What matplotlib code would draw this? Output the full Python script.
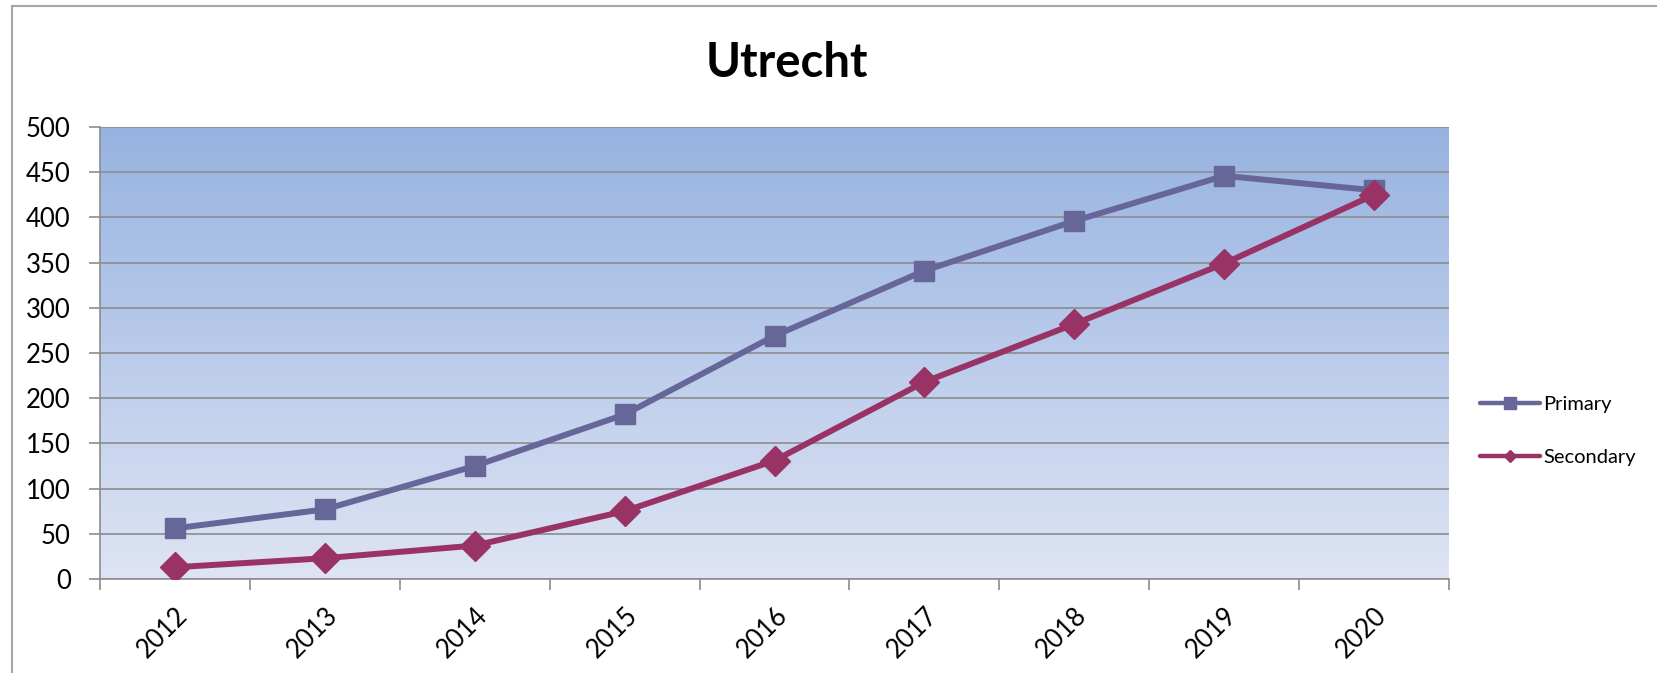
import matplotlib
matplotlib.use("Agg")
import matplotlib.pyplot as plt
import numpy as np
from matplotlib.colors import LinearSegmentedColormap
from matplotlib.lines import Line2D
from matplotlib.patches import Rectangle

years = ["2012", "2013", "2014", "2015", "2016", "2017", "2018", "2019", "2020"]
primary = [56, 77, 125, 182, 269, 341, 396, 446, 430]
secondary = [13, 23, 37, 75, 131, 218, 282, 349, 425]
y_ticks = [0, 50, 100, 150, 200, 250, 300, 350, 400, 450, 500]

PRIMARY_COLOR = "#666699"
SECONDARY_COLOR = "#993366"
GRID_COLOR = "#8c8c8c"

plt.rcParams["font.family"] = ["Lato", "DejaVu Sans"]

W, H = 1658, 673
fig = plt.figure(figsize=(W / 100, H / 100), dpi=100)
ax = fig.add_axes([100 / W, 1 - 579 / H, (1449 - 100) / W, (579 - 127) / H])

# gradient plot area (dark blue at the top, pale at the bottom)
grad = LinearSegmentedColormap.from_list("bg", ["#dee4f4", "#97b3e1"])
ax.imshow(np.linspace(0, 1, 256).reshape(-1, 1), cmap=grad, aspect="auto",
          extent=(-0.5, 8.5, 0, 500), origin="lower", zorder=0)

x = np.arange(len(years))
ax.plot(x, primary, color=PRIMARY_COLOR, lw=4.3, marker="s", ms=14,
        mec=PRIMARY_COLOR, zorder=3, solid_capstyle="round")
ax.plot(x, secondary, color=SECONDARY_COLOR, lw=4.3, marker="D", ms=15,
        mec=SECONDARY_COLOR, zorder=4, solid_capstyle="round")

ax.set_xlim(-0.5, 8.5)
ax.set_ylim(0, 500)
ax.set_yticks(y_ticks)
ax.set_yticklabels([str(v) for v in y_ticks])
ax.yaxis.grid(True, color=GRID_COLOR, lw=1.2, zorder=1)
ax.set_axisbelow(False)
for line in ax.get_ygridlines():
    line.set_zorder(1)

# ticks sit between categories, labels at category centres
ax.set_xticks(np.arange(-0.5, 9.0, 1.0))
ax.set_xticklabels([])
ax.set_xticks(x, minor=True)
ax.set_xticklabels(years, minor=True, rotation=45, ha="right",
                   rotation_mode="anchor", fontsize=18.5)
ax.tick_params(axis="x", which="minor", length=0, pad=17)
ax.tick_params(axis="x", which="major", length=8, color=GRID_COLOR, width=1.2)
ax.tick_params(axis="y", length=8, color=GRID_COLOR, width=1.2, pad=13, labelsize=18.5)

for side in ("top", "right"):
    ax.spines[side].set_visible(False)
for side in ("left", "bottom"):
    ax.spines[side].set_color(GRID_COLOR)
    ax.spines[side].set_linewidth(1.2)

fig.text(787 / W, 1 - 63 / H, "Utrecht", ha="center", va="center",
         fontsize=34, fontweight="bold")

handles = [
    Line2D([], [], color=PRIMARY_COLOR, lw=3.2, marker="s", ms=8, solid_capstyle="round"),
    Line2D([], [], color=SECONDARY_COLOR, lw=3.2, marker="D", ms=6, solid_capstyle="round"),
]
fig.legend(handles, ["Primary", "Secondary"], loc="center left",
           bbox_to_anchor=(1480 / W, 1 - 431 / H), frameon=False, fontsize=14.5,
           handlelength=3.0, handletextpad=0.15, labelspacing=1.75,
           borderpad=0, borderaxespad=0)

# chart border (left and top edges visible)
fig.patches.append(Rectangle((12 / W, -0.1), 1.2, 1.1 - 6 / H, transform=fig.transFigure,
                             fill=False, ec="#a6a6a6", lw=1.5))

fig.savefig("out.png", dpi=100)
